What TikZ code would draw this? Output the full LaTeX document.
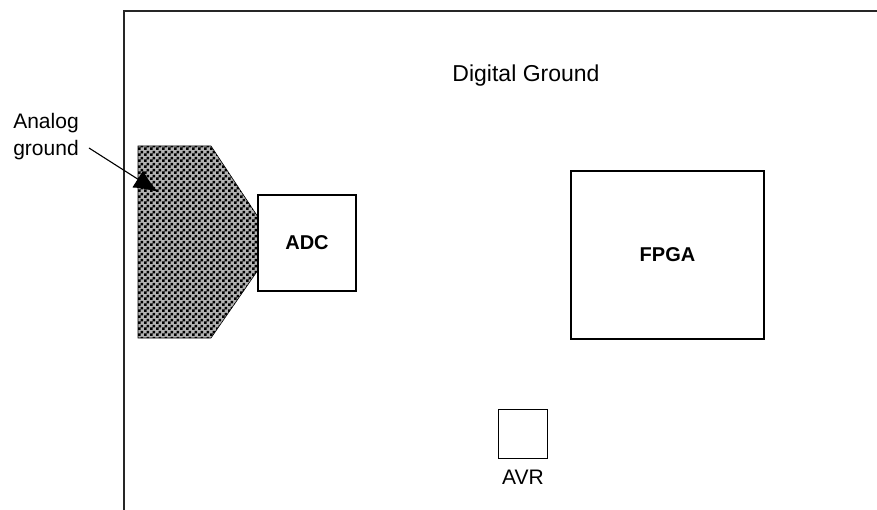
\documentclass[tikz,border=0pt]{standalone}
\usepackage{fontspec}
\setmainfont{Liberation Sans}
\usetikzlibrary{arrows.meta,patterns.meta,positioning}
\tikzdeclarepattern{
  name=agcheck,
  type=uncolored,
  bottom left={(0pt,0pt)},
  top right={(6pt,6pt)},
  tile size={(6pt,6pt)},
  code={
    \pgfpathrectangle{\pgfpointorigin}{\pgfpoint{3pt}{3pt}}
    \pgfpathrectangle{\pgfpoint{3pt}{3pt}}{\pgfpoint{3pt}{3pt}}
    \pgfusepath{fill}
  }
}
\begin{document}
\begin{tikzpicture}
[x=1pt,y=-1pt,chip/.style={draw,line width=1.1pt,inner sep=0pt},lbl/.style={font=\fontsize{21}{27}\selectfont,align=center},chiplbl/.style={chip,font=\fontsize{20}{24}\selectfont\bfseries},ptr/.style={-{Latex[length=24pt,width=20pt]},line width=1.1pt},]
\useasboundingbox (0,0) rectangle (877,510);
% board edge
\draw[line width=1.4pt,black!85] (877,11) -- (124,11) -- (124,510);
\node[lbl,anchor=base,font=\fontsize{23}{27}\selectfont](dgnd) at (526,82){Digital Ground};
% analog ground island
\fill[black!30] (138,146) -- (211,146) -- (258,217) -- (258,270) -- (211,338) -- (138,338) -- cycle;
\path[pattern=agcheck,pattern color=black,draw,line width=0.6pt] (138,146) -- (211,146) -- (258,217) -- (258,270) -- (211,338) -- (138,338) -- cycle;
\node[chiplbl,minimum width=98pt,minimum height=96pt,fill=white](adc) at (307,243){ADC};
\node[chiplbl,minimum width=193pt,minimum height=168pt](fpga) at (667.5,255){FPGA};
\node[chip,minimum width=49pt,minimum height=49pt](avr) at (523,434){};
\node[lbl,below=7pt of avr](avrlbl){AVR};
\node[lbl](aglbl) at (46,137){Analog\\ground};
\coordinate (agtail) at (89,148);
\coordinate (agtip) at (158,192);
\draw[ptr] (agtail) -- (agtip);
\end{tikzpicture}
\end{document}
